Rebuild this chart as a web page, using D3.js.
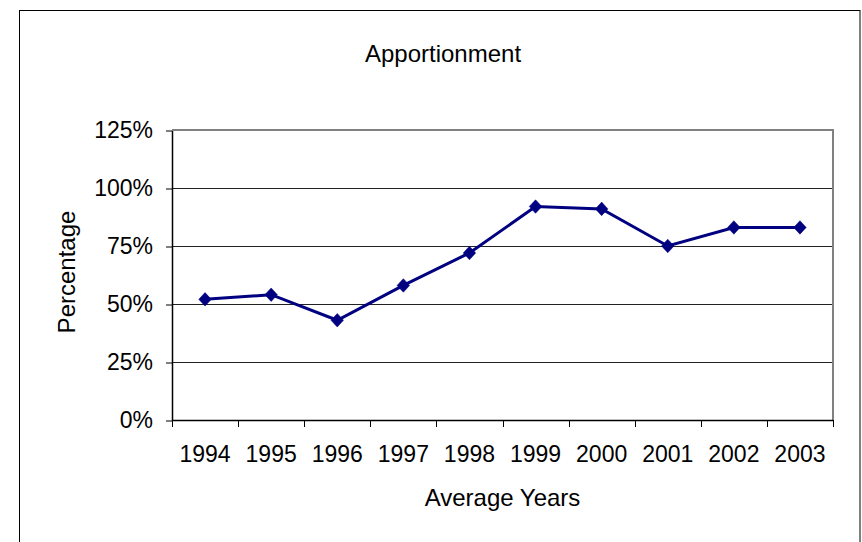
<!DOCTYPE html>
<html>
<head>
<meta charset="utf-8">
<script src="https://cdn.jsdelivr.net/npm/d3@7"></script>
<style>
  body { margin: 0; background: #fff; }
  svg { display: block; }
</style>
</head>
<body>
<svg></svg>
<script>
// Data
var years = ['1994', '1995', '1996', '1997', '1998', '1999', '2000', '2001', '2002', '2003'];
var apportionment = [0.52, 0.54, 0.43, 0.58, 0.72, 0.92, 0.91, 0.75, 0.83, 0.83];
var yTicks = [0, 0.25, 0.5, 0.75, 1, 1.25];

var chartTitle = 'Apportionment';
var xTitle = 'Average Years';
var yTitle = 'Percentage';

// Dimensions
var width = 862;
var height = 542;
var plotLeft = 172;
var plotRight = 833;
var plotTop = 130;
var plotBottom = 420;
var font = "'Liberation Sans', Arial, Helvetica, sans-serif";

var svg = d3.select('svg')
  .attr('width', width)
  .attr('height', height);

// Outer chart border
svg.append('rect')
  .attr('x', 19.5)
  .attr('y', 10.5)
  .attr('width', 840.5)
  .attr('height', 560)
  .attr('fill', '#fff')
  .attr('stroke', '#000')
  .attr('stroke-width', 1);

var x = d3.scaleBand()
  .domain(years)
  .range([plotLeft, plotRight])
  .padding(0);

var y = d3.scaleLinear()
  .domain([0, 1.25])
  .range([plotBottom, plotTop]);

// Horizontal gridlines
svg.append('g')
  .selectAll('line')
  .data(yTicks.slice(1, -1))
  .enter()
  .append('line')
    .attr('x1', plotLeft)
    .attr('x2', plotRight)
    .attr('y1', function (d) { return Math.round(y(d)) + 0.5; })
    .attr('y2', function (d) { return Math.round(y(d)) + 0.5; })
    .attr('stroke', '#222')
    .attr('stroke-width', 1);

// Plot area border, gray top and right
svg.append('path')
  .attr('d', 'M' + plotLeft + ',' + y(1.25) + 'H' + plotRight + 'V' + plotBottom)
  .attr('fill', 'none')
  .attr('stroke', '#808080')
  .attr('stroke-width', 2);

// Y axis
var yAxis = d3.axisLeft(y)
  .tickValues(yTicks)
  .tickFormat(d3.format('.0%'))
  .tickSizeInner(6)
  .tickSizeOuter(0)
  .tickPadding(13);

var yG = svg.append('g')
  .attr('transform', 'translate(' + plotLeft + ',0.5)')
  .call(yAxis);
yG.select('.domain').attr('stroke', '#000').attr('stroke-width', 1.5);
yG.selectAll('.tick line').attr('stroke', '#000');
yG.selectAll('text')
  .attr('font-family', font)
  .attr('font-size', 23)
  .attr('fill', '#000');

// X axis: labels at band centres, ticks at band edges
var xAxis = d3.axisBottom(x)
  .tickSize(0)
  .tickPadding(0);

var xG = svg.append('g')
  .attr('transform', 'translate(0,' + plotBottom + ')')
  .call(xAxis);
xG.select('.domain').remove();
xG.selectAll('text')
  .attr('y', 34)
  .attr('dy', '0.35em')
  .attr('font-family', font)
  .attr('font-size', 23)
  .attr('fill', '#000');

svg.append('line')
  .attr('x1', plotLeft)
  .attr('x2', plotRight)
  .attr('y1', plotBottom + 0.5)
  .attr('y2', plotBottom + 0.5)
  .attr('stroke', '#000')
  .attr('stroke-width', 1.5);

svg.append('g')
  .selectAll('line')
  .data(years.concat(['end']))
  .enter()
  .append('line')
    .attr('x1', function (d) { return Math.round(d === 'end' ? plotRight : x(d)) + 0.5; })
    .attr('x2', function (d) { return Math.round(d === 'end' ? plotRight : x(d)) + 0.5; })
    .attr('y1', plotBottom)
    .attr('y2', plotBottom + 7)
    .attr('stroke', '#000');

// Data line
var line = d3.line()
  .x(function (d, i) { return x(years[i]) + x.bandwidth() / 2; })
  .y(function (d) { return y(d); });

svg.append('path')
  .datum(apportionment)
  .attr('d', line)
  .attr('fill', 'none')
  .attr('stroke', '#000080')
  .attr('stroke-width', 3);

// Diamond markers
var diamond = d3.symbol().type(d3.symbolDiamond2).size(100);

svg.append('g')
  .selectAll('path')
  .data(apportionment)
  .enter()
  .append('path')
    .attr('d', diamond)
    .attr('transform', function (d, i) {
      return 'translate(' + (x(years[i]) + x.bandwidth() / 2) + ',' + y(d) + ') scale(1,1.08)';
    })
    .attr('fill', '#000080')
    .attr('stroke', '#000080')
    .attr('stroke-width', 0.5);

// Titles
svg.append('text')
  .attr('x', 443)
  .attr('y', 54)
  .attr('dy', '0.35em')
  .attr('text-anchor', 'middle')
  .attr('font-family', font)
  .attr('font-size', 24)
  .text(chartTitle);

svg.append('text')
  .attr('x', (plotLeft + plotRight) / 2)
  .attr('y', 498)
  .attr('dy', '0.35em')
  .attr('text-anchor', 'middle')
  .attr('font-family', font)
  .attr('font-size', 24)
  .text(xTitle);

svg.append('text')
  .attr('transform', 'translate(67,272) rotate(-90)')
  .attr('dy', '0.35em')
  .attr('text-anchor', 'middle')
  .attr('font-family', font)
  .attr('font-size', 24)
  .text(yTitle);
</script>
</body>
</html>
